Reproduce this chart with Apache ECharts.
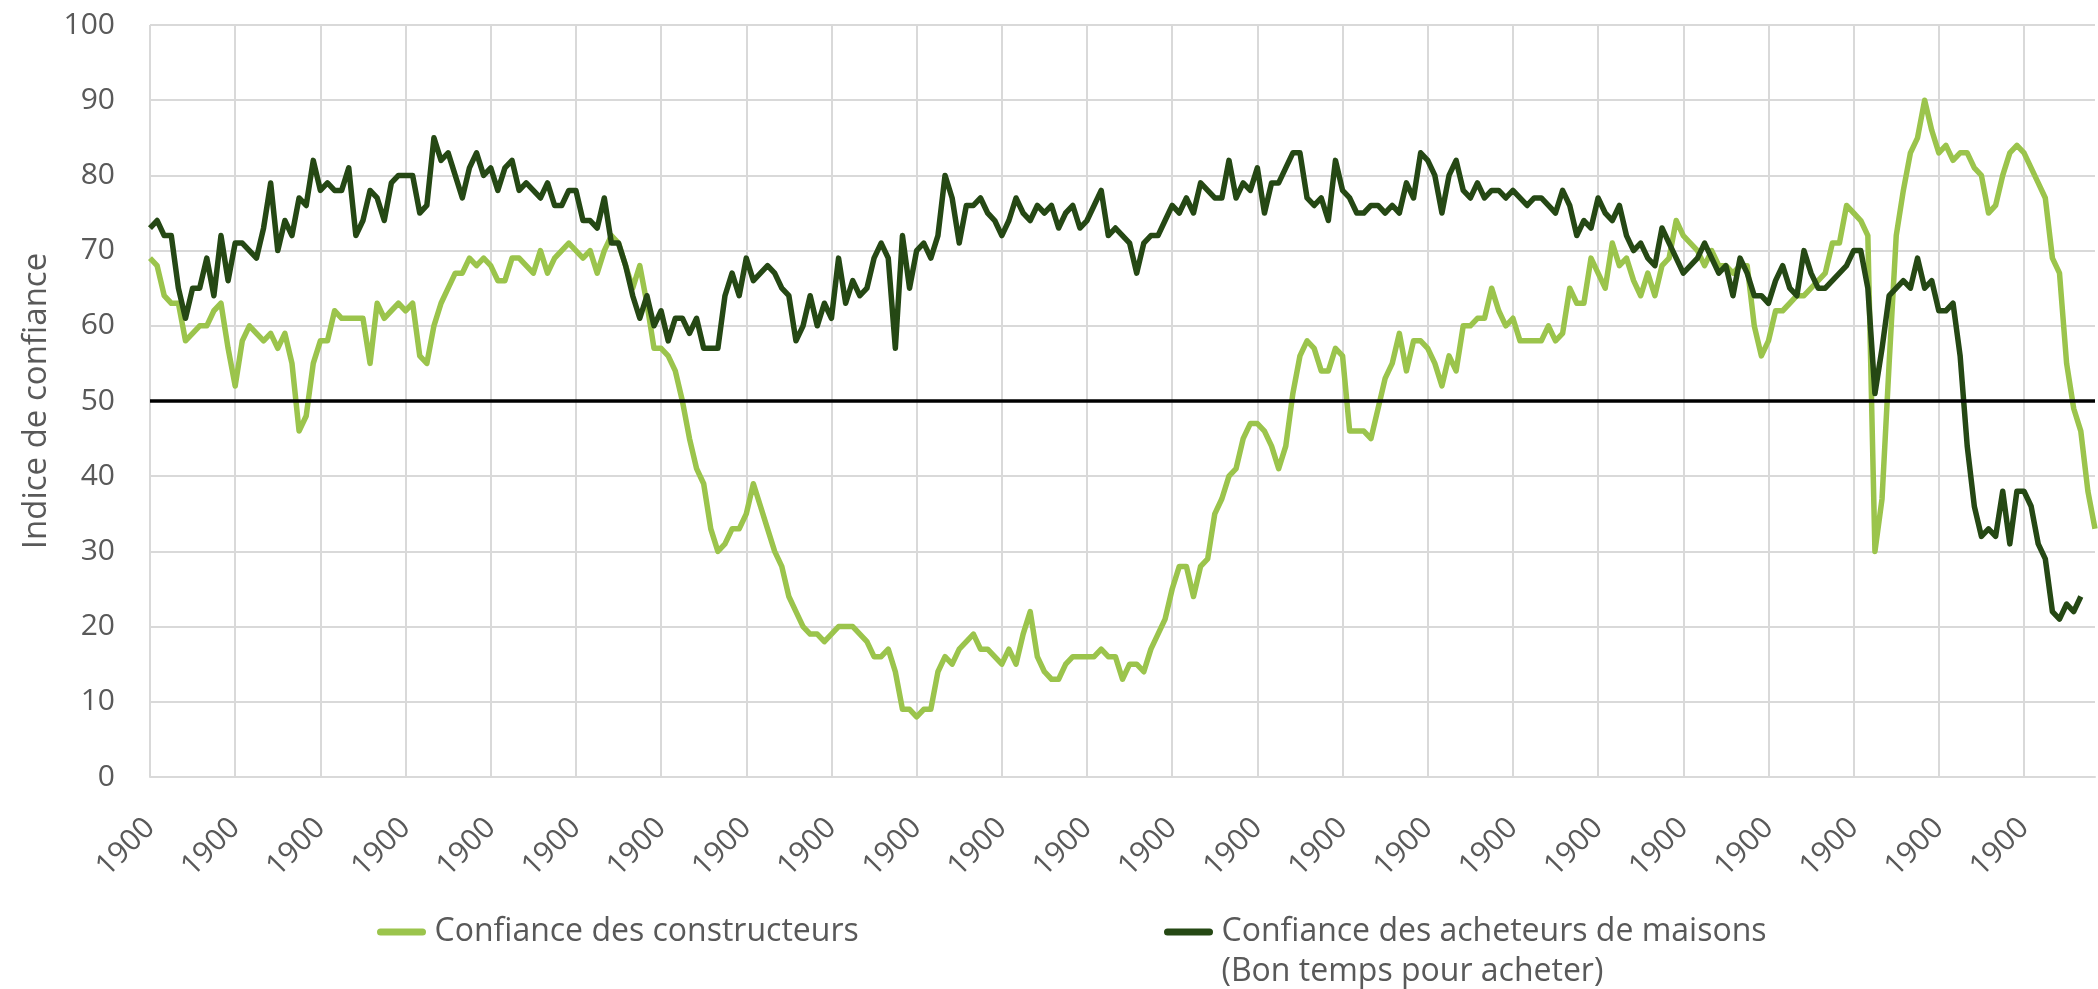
<!DOCTYPE html>
<html>
<head>
<meta charset="utf-8">
<script src="https://cdn.jsdelivr.net/npm/echarts@6/dist/echarts.min.js"></script>
<style>
  html, body { margin: 0; padding: 0; background: #fff; }
  #main { width: 2098px; height: 989px; }
</style>
</head>
<body>
<div id="main"></div>
<script>
// monthly readings, one value per month
const builders = [
  69, 68, 64, 63, 63, 58, 59, 60, 60, 62, 63, 57,
  52, 58, 60, 59, 58, 59, 57, 59, 55, 46, 48, 55,
  58, 58, 62, 61, 61, 61, 61, 55, 63, 61, 62, 63,
  62, 63, 56, 55, 60, 63, 65, 67, 67, 69, 68, 69,
  68, 66, 66, 69, 69, 68, 67, 70, 67, 69, 70, 71,
  70, 69, 70, 67, 70, 72, 71, 68, 65, 68, 63, 57,
  57, 56, 54, 50, 45, 41, 39, 33, 30, 31, 33, 33,
  35, 39, 36, 33, 30, 28, 24, 22, 20, 19, 19, 18,
  19, 20, 20, 20, 19, 18, 16, 16, 17, 14, 9, 9,
  8, 9, 9, 14, 16, 15, 17, 18, 19, 17, 17, 16,
  15, 17, 15, 19, 22, 16, 14, 13, 13, 15, 16, 16,
  16, 16, 17, 16, 16, 13, 15, 15, 14, 17, 19, 21,
  25, 28, 28, 24, 28, 29, 35, 37, 40, 41, 45, 47,
  47, 46, 44, 41, 44, 51, 56, 58, 57, 54, 54, 57,
  56, 46, 46, 46, 45, 49, 53, 55, 59, 54, 58, 58,
  57, 55, 52, 56, 54, 60, 60, 61, 61, 65, 62, 60,
  61, 58, 58, 58, 58, 60, 58, 59, 65, 63, 63, 69,
  67, 65, 71, 68, 69, 66, 64, 67, 64, 68, 69, 74,
  72, 71, 70, 68, 70, 68, 68, 67, 68, 68, 60, 56,
  58, 62, 62, 63, 64, 64, 65, 66, 67, 71, 71, 76,
  75, 74, 72, 30, 37, 55, 72, 78, 83, 85, 90, 86,
  83, 84, 82, 83, 83, 81, 80, 75, 76, 80, 83, 84,
  83, 81, 79, 77, 69, 67, 55, 49, 46, 38, 33
];

const buyers = [
  73, 74, 72, 72, 65, 61, 65, 65, 69, 64, 72, 66,
  71, 71, 70, 69, 73, 79, 70, 74, 72, 77, 76, 82,
  78, 79, 78, 78, 81, 72, 74, 78, 77, 74, 79, 80,
  80, 80, 75, 76, 85, 82, 83, 80, 77, 81, 83, 80,
  81, 78, 81, 82, 78, 79, 78, 77, 79, 76, 76, 78,
  78, 74, 74, 73, 77, 71, 71, 68, 64, 61, 64, 60,
  62, 58, 61, 61, 59, 61, 57, 57, 57, 64, 67, 64,
  69, 66, 67, 68, 67, 65, 64, 58, 60, 64, 60, 63,
  61, 69, 63, 66, 64, 65, 69, 71, 69, 57, 72, 65,
  70, 71, 69, 72, 80, 77, 71, 76, 76, 77, 75, 74,
  72, 74, 77, 75, 74, 76, 75, 76, 73, 75, 76, 73,
  74, 76, 78, 72, 73, 72, 71, 67, 71, 72, 72, 74,
  76, 75, 77, 75, 79, 78, 77, 77, 82, 77, 79, 78,
  81, 75, 79, 79, 81, 83, 83, 77, 76, 77, 74, 82,
  78, 77, 75, 75, 76, 76, 75, 76, 75, 79, 77, 83,
  82, 80, 75, 80, 82, 78, 77, 79, 77, 78, 78, 77,
  78, 77, 76, 77, 77, 76, 75, 78, 76, 72, 74, 73,
  77, 75, 74, 76, 72, 70, 71, 69, 68, 73, 71, 69,
  67, 68, 69, 71, 69, 67, 68, 64, 69, 67, 64, 64,
  63, 66, 68, 65, 64, 70, 67, 65, 65, 66, 67, 68,
  70, 70, 65, 51, 57, 64, 65, 66, 65, 69, 65, 66,
  62, 62, 63, 56, 44, 36, 32, 33, 32, 38, 31, 38,
  38, 36, 31, 29, 22, 21, 23, 22, 24
];

// the source axis shows the same year on every tick
const tickLabel = '1900';
const months = builders.map(() => tickLabel);

const nameBuilders = 'Confiance des constructeurs';
const nameBuyers = 'Confiance des acheteurs de maisons\n(Bon temps pour acheter)';

const font = "'Open Sans', 'Noto Sans', sans-serif";
const grey = '#595959';
const gridGrey = '#d9d9d9';
const lightGreen = '#9bc44c';
const darkGreen = '#254814';
// short bar with round ends, like the source legend keys
const keyIcon = 'path://M4,0 L52,0 A4,4 0 0 1 52,8 L4,8 A4,4 0 0 1 4,0 Z';

const legendText = { fontSize: 32, color: grey, fontFamily: font, lineHeight: 40 };

const chart = echarts.init(document.getElementById('main'));
chart.setOption({
  animation: false,
  backgroundColor: '#fff',
  textStyle: { fontFamily: font },
  grid: { left: 150, right: 3, top: 25, bottom: 212 },
  legend: [
    {
      data: [{ name: nameBuilders, icon: keyIcon }],
      left: 372,
      top: 907,
      itemWidth: 56,
      itemHeight: 7,
      textStyle: legendText,
    },
    {
      data: [{ name: nameBuyers, icon: keyIcon }],
      left: 1159,
      top: 867,
      itemWidth: 56,
      itemHeight: 7,
      // empty first line keeps the first text line level with the key
      formatter: (name) => '\n' + name,
      textStyle: legendText,
    },
  ],
  xAxis: {
    type: 'category',
    data: months,
    boundaryGap: false,
    axisLine: { lineStyle: { color: gridGrey, width: 2 } },
    axisTick: { show: false },
    axisLabel: {
      interval: 11,
      rotate: 45,
      margin: 46,
      fontSize: 30,
      color: grey,
      fontFamily: font,
    },
    splitLine: {
      show: true,
      interval: 11,
      lineStyle: { color: gridGrey, width: 2 },
    },
  },
  yAxis: {
    type: 'value',
    min: 0,
    max: 100,
    interval: 10,
    name: 'Indice de confiance',
    nameLocation: 'middle',
    nameGap: 97,
    nameTextStyle: { fontSize: 33, color: grey, fontFamily: font },
    axisLine: { show: false },
    axisTick: { show: false },
    axisLabel: { fontSize: 30, color: grey, margin: 35, fontFamily: font },
    splitLine: { lineStyle: { color: gridGrey, width: 2 } },
  },
  series: [
    {
      name: nameBuilders,
      type: 'line',
      data: builders,
      symbol: 'none',
      color: lightGreen,
      lineStyle: { width: 5.5, color: lightGreen, join: 'round' },
      markLine: {
        silent: true,
        symbol: 'none',
        label: { show: false },
        lineStyle: { color: '#000', width: 3.5, type: 'solid' },
        data: [{ yAxis: 50 }],
      },
    },
    {
      name: nameBuyers,
      type: 'line',
      data: buyers,
      symbol: 'none',
      color: darkGreen,
      lineStyle: { width: 5.5, color: darkGreen, join: 'round' },
    },
  ],
});
</script>
</body>
</html>
